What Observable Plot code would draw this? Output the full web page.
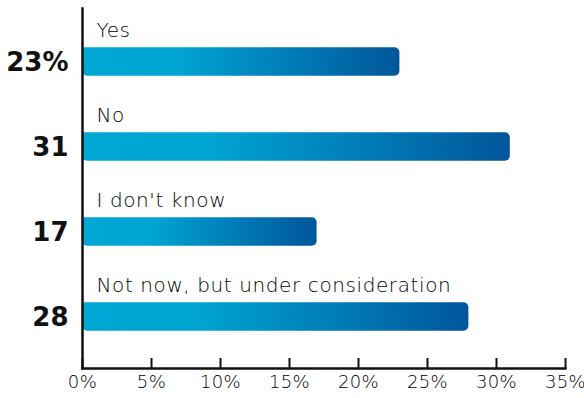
<!DOCTYPE html>
<html>
<head>
<meta charset="utf-8">
<script src="https://cdn.jsdelivr.net/npm/d3@7"></script>
<script src="https://cdn.jsdelivr.net/npm/@observablehq/plot@0.6"></script>
<style>
  html, body { margin: 0; padding: 0; background: #fff; }
  svg { display: block; }
  #chart g[aria-label="text"].cat text { letter-spacing: 0.6px; }
  #chart g[aria-label="x-axis tick label"] text { letter-spacing: 0.4px; }
</style>
</head>
<body>
<div id="chart"></div>
<script>
const categories = ["Yes", "No", "I don't know", "Not now, but under consideration"];
const values = [23, 31, 17, 28];
const valueLabels = ["23%", "31", "17", "28"];
const xTicks = [0, 5, 10, 15, 20, 25, 30, 35];

const data = categories.map((c, i) => ({category: c, value: values[i], label: valueLabels[i]}));

const defs = () => {
  const d = d3.create("svg:defs");
  const g = d.append("linearGradient").attr("id", "barGrad").attr("x1", "0").attr("x2", "1").attr("y1", "0").attr("y2", "0");
  g.append("stop").attr("offset", "0").attr("stop-color", "#00a7d4");
  g.append("stop").attr("offset", "0.3").attr("stop-color", "#00a4d2");
  g.append("stop").attr("offset", "1").attr("stop-color", "#00569b");
  return d.node();
};

const chart = Plot.plot({
  width: 584,
  height: 398,
  marginLeft: 82,
  marginRight: 19,
  marginTop: 8,
  marginBottom: 30,
  style: {fontFamily: "'DejaVu Sans', sans-serif", background: "#fff"},
  x: {domain: [0, 35], ticks: xTicks},
  y: {domain: categories, range: [17, 360], padding: 0, axis: null},
  marks: [
    defs,
    Plot.barX(data, {
      x: "value", y: "category", fill: "url(#barGrad)",
      insetTop: 28.3, insetBottom: 28.3, rx2: 5, ry2: 5, rx: 5
    }),
    Plot.text(data, {
      x: 0, y: "category", text: "category", textAnchor: "start",
      dx: 14, dy: -31, fontSize: 20, fontWeight: 200, fill: "#000"
    }),
    Plot.text(data, {
      x: 0, y: "category", text: "label", textAnchor: "end",
      dx: -14, dy: 1, fontSize: 26, fontWeight: 700, fill: "#111"
    }),
    Plot.axisX({ticks: xTicks, tickSize: -10, text: null, strokeWidth: 2, stroke: "#111", label: null}),
    Plot.axisX({ticks: xTicks, tickSize: 0, tickPadding: 7, tickFormat: d => d + "%", fontSize: 18, fontWeight: 200, fill: "#000", label: null}),
    Plot.frame({anchor: "bottom", stroke: "#111", strokeWidth: 2.5}),
    Plot.frame({anchor: "left", stroke: "#111", strokeWidth: 2.5})
  ]
});

const textGroups = chart.querySelectorAll('g[aria-label="text"]');
if (textGroups.length) textGroups[0].classList.add("cat");

document.getElementById("chart").append(chart);
</script>
</body>
</html>
